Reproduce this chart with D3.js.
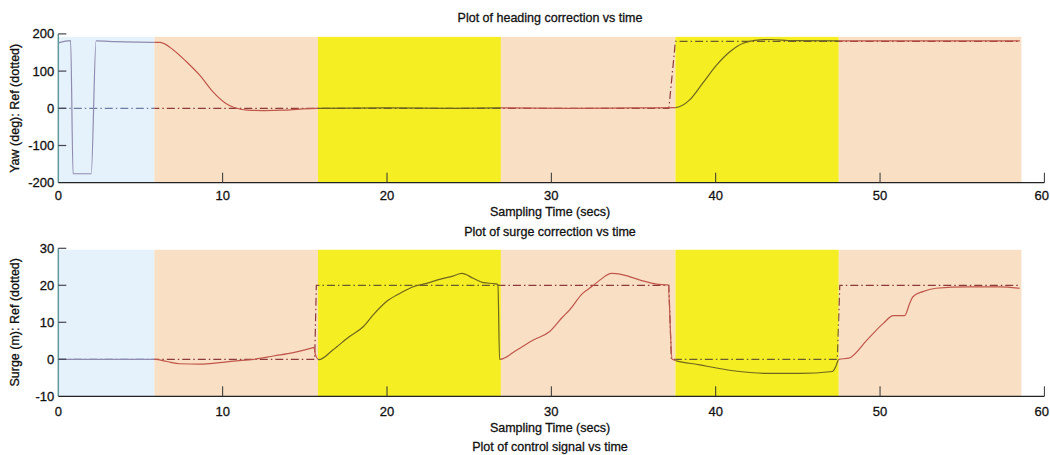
<!DOCTYPE html>
<html>
<head>
<meta charset="utf-8">
<script src="https://cdn.jsdelivr.net/npm/d3@7"></script>
<style>
body{margin:0;background:#fff;}
svg text{font-family:"Liberation Sans",Arial,sans-serif;fill:#111;stroke:#111;stroke-width:0.3px;}
</style>
</head>
<body>
<script>
// shaded phases along time axis
let regionStart=[0,5.85,15.8,26.93,37.55,47.49];
let regionEnd=[5.85,15.8,26.93,37.55,47.49,58.6];
let regionKind=["blue","orange","yellow","orange","yellow","orange"];

let xTicks=[0,10,20,30,40,50,60];
let yawTicks=[-200,-100,0,100,200];
let surgeTicks=[-10,0,10,20,30];

// yaw response and its reference
let yawT=[0,0.75,0.9,2.0,2.3,3.5,6.2,7.0,7.8,8.6,9.4,10.2,10.7,11.5,12.5,13.7,14.7,15.7,20,24,27,31,35,37.55,38.4,39.2,40.05,40.86,41.67,42.7,43.3,44.7,50,58.5];
let yawV=[176,182,-176,-176,181,179,177,157,125,89,45,13,2,-5,-6,-5,-2,0,1,0,1,0,1,2,22,67,116,152,175,184,185,182,181,181];
let yawRefT=[0,37.15,37.55,58.5];
let yawRefV=[0,0,180,180];

// surge response and its reference
let surgeT=[0,5.9,6.6,7.4,8.6,9.8,10.65,11.9,13.1,14.3,15.4,15.55,15.65,15.85,16.7,17.7,18.55,19.16,19.97,20.78,21.6,22.4,23.2,24.0,24.55,25.25,25.85,26.6,26.75,26.85,27.9,28.9,29.9,30.7,31.1,31.9,32.5,32.95,33.66,34.37,35.4,36.4,37.1,37.35,39.03,41.06,43.1,45.1,47.1,47.3,47.5,48.1,49.2,50.2,50.8,51.5,51.8,52.0,52.6,53.4,55.3,57.3,58.5];
let surgeV=[0,0,-0.6,-1.2,-1.3,-0.9,-0.5,0,0.9,1.8,3.0,3.2,1.2,-0.1,2.5,6.1,8.8,12,15.6,17.8,19.6,20.5,21.6,22.5,23.2,21.9,20.7,20.4,20.2,0,2.5,5.2,7.5,11.5,13.3,17.8,19.8,21.4,23.2,22.8,21.4,20.3,20.1,0,-1.5,-3.1,-3.8,-3.8,-3.3,-2,0,0.3,5.2,9.7,11.8,11.8,15.1,16.9,18.3,19.2,19.6,19.6,19.2];
let surgeRefT=[0,15.6,15.7,37.15,37.3,47.4,47.55,58.5];
let surgeRefV=[0,0,20,20,0,0,20,20];

let bgColor={blue:"#e5f1fb",orange:"#f9dfc3",yellow:"#f4ee22"};
let respColor={blue:"#8e8cb0",orange:"#c0564c",yellow:"#6f6420"};
let refColor={blue:"#6e7ea0",orange:"#8c3a3a",yellow:"#6a5c2c"};

let W=1050,H=455;
let svg=d3.select("body").append("svg").attr("width",W).attr("height",H);
let x=d3.scaleLinear().domain([0,60]).range([58.3,1044.4]);

let zip=(a,b)=>a.map((t,i)=>[t,b[i]]);

function panel(id,yDomain,yRange,shadeTop,yticks,resp,ref,title,ylabel,titleY,tickY,xlabY){
    let y=d3.scaleLinear().domain(yDomain).range(yRange);
    let g=svg.append("g");
    let regions=regionStart.map((s,i)=>({s:s,e:regionEnd[i],k:regionKind[i]}));
    g.selectAll("rect.bg").data(regions).enter().append("rect")
        .attr("x",d=>x(d.s)).attr("width",d=>x(d.e)-x(d.s))
        .attr("y",y(shadeTop)).attr("height",y(yDomain[0])-y(shadeTop))
        .attr("fill",d=>bgColor[d.k]);
    let defs=svg.append("defs");
    regions.forEach((r,i)=>{
        defs.append("clipPath").attr("id",id+"c"+i).append("rect")
            .attr("x",x(r.s)).attr("width",x(r.e)-x(r.s))
            .attr("y",yRange[1]-5).attr("height",yRange[0]-yRange[1]+10);
    });
    let refLine=d3.line().x(d=>x(d[0])).y(d=>y(d[1]));
    let respLine=d3.line().x(d=>x(d[0])).y(d=>y(d[1])).curve(d3.curveMonotoneX);
    regions.forEach((r,i)=>{
        let cg=g.append("g").attr("clip-path","url(#"+id+"c"+i+")");
        cg.append("path").datum(ref).attr("d",refLine).attr("fill","none")
            .attr("stroke",refColor[r.k]).attr("stroke-width",1.2)
            .attr("stroke-dasharray","8,3,1.5,3");
        cg.append("path").datum(resp).attr("d",respLine).attr("fill","none")
            .attr("stroke",respColor[r.k]).attr("stroke-width",1.2);
    });
    // axes, matlab style ticks pointing in
    let x0=x(0),yb=y(yDomain[0]);
    g.append("line").attr("x1",x0).attr("x2",x0).attr("y1",y(yDomain[1])).attr("y2",yb)
        .attr("stroke","#5f9a9c").attr("stroke-width",1.5);
    g.append("line").attr("x1",x0).attr("x2",x(60)).attr("y1",yb).attr("y2",yb)
        .attr("stroke","#222").attr("stroke-width",1.3);
    g.selectAll("line.xt").data(xTicks.slice(1)).enter().append("line")
        .attr("x1",d=>x(d)).attr("x2",d=>x(d)).attr("y1",yb).attr("y2",yb-10)
        .attr("stroke","#333").attr("stroke-width",1);
    g.selectAll("line.yt").data(yticks.slice(1)).enter().append("line")
        .attr("x1",x0).attr("x2",x0+8).attr("y1",d=>y(d)).attr("y2",d=>y(d))
        .attr("stroke","#445").attr("stroke-width",1.2);
    g.selectAll("text.xl").data(xTicks).enter().append("text")
        .attr("x",d=>d==60?1049:x(d)).attr("y",tickY)
        .attr("text-anchor",d=>d==60?"end":"middle")
        .style("font-size","13px").text(d=>d);
    g.selectAll("text.yl").data(yticks).enter().append("text")
        .attr("x",x0-4).attr("y",d=>y(d)+4.5).attr("text-anchor","end")
        .style("font-size","13px").text(d=>d);
    g.append("text").attr("x",550).attr("y",titleY).attr("text-anchor","middle")
        .style("font-size","12.5px").text(title);
    g.append("text").attr("x",550).attr("y",xlabY).attr("text-anchor","middle")
        .style("font-size","12.5px").text("Sampling Time (secs)");
    let cy=(yRange[0]+yRange[1])/2;
    g.append("text").attr("transform","translate(19,"+cy+") rotate(-90)")
        .attr("text-anchor","middle").style("font-size","12.5px").text(ylabel);
}

panel("yaw",[-200,200],[182.7,33.9],192,yawTicks,zip(yawT,yawV),zip(yawRefT,yawRefV),
    "Plot of heading correction vs time","Yaw (deg): Ref (dotted)",22,200,216);
panel("surge",[-10,30],[396.3,248.3],29.6,surgeTicks,zip(surgeT,surgeV),zip(surgeRefT,surgeRefV),
    "Plot of surge correction vs time","Surge (m): Ref (dotted)",236,416,432);

svg.append("text").attr("x",550).attr("y",451).attr("text-anchor","middle")
    .style("font-size","12.5px").text("Plot of control signal vs time");
</script>
</body>
</html>
